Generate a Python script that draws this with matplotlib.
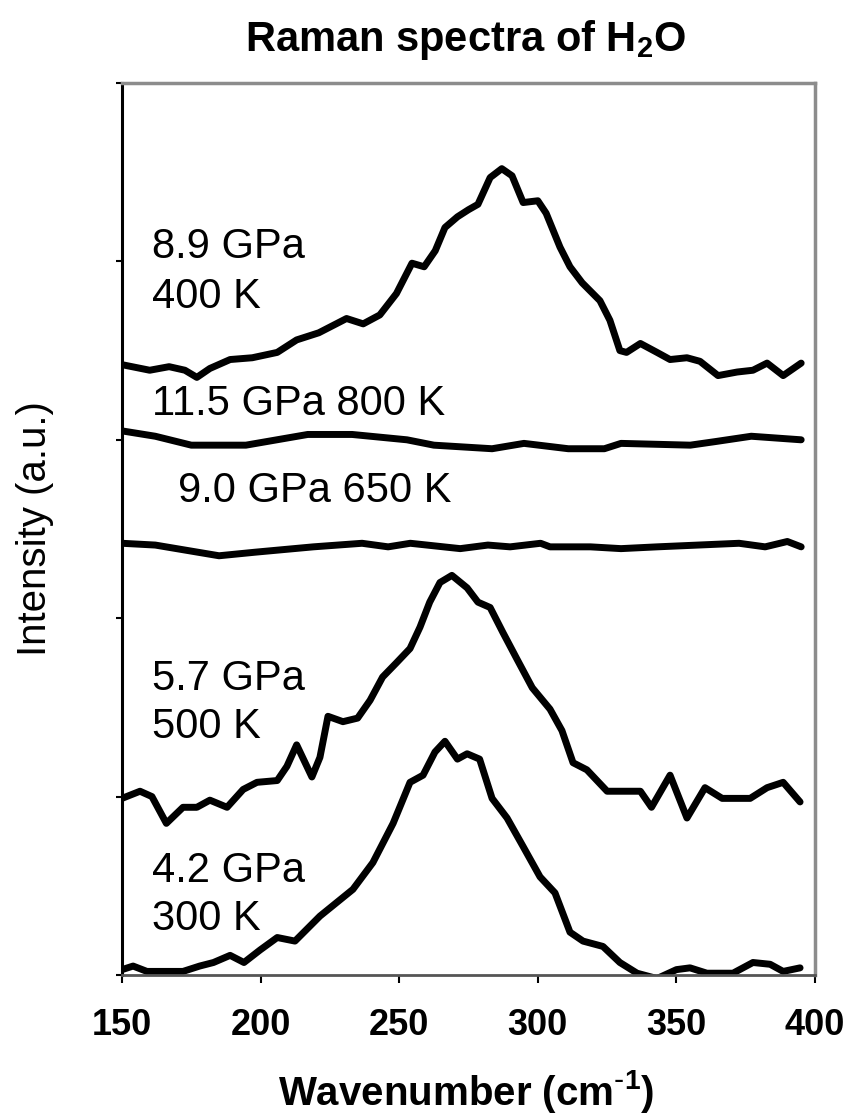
import numpy as np
import matplotlib
matplotlib.use("Agg")
import matplotlib.pyplot as plt

plt.rcParams['font.family'] = ['Liberation Sans', 'DejaVu Sans']
plt.rcParams['mathtext.default'] = 'regular'

# spectra (wavenumber, intensity with the stacking offset)
x89 = [150.4, 160, 167, 172.7, 177, 181.7, 189, 197, 206, 213, 221, 231, 237, 243, 249,
       254.6, 259, 263, 266.5, 271, 275, 278.4, 282.8, 287, 290.7, 294.7, 300, 303, 308,
       311.6, 316, 322.4, 326, 329.6, 332, 337, 343, 347.7, 353.8, 358.5, 365, 371.9,
       377.6, 382.7, 388.5, 395]
y89 = [3.42, 3.39, 3.41, 3.39, 3.35, 3.40, 3.45, 3.46, 3.49, 3.56, 3.60, 3.68, 3.65, 3.70,
       3.82, 3.99, 3.97, 4.06, 4.19, 4.25, 4.29, 4.32, 4.47, 4.52, 4.48, 4.33, 4.34, 4.27,
       4.08, 3.97, 3.88, 3.78, 3.67, 3.50, 3.49, 3.54, 3.49, 3.45, 3.46, 3.44, 3.36, 3.38,
       3.39, 3.43, 3.36, 3.43]

x115 = [150, 162, 175, 194.7, 217, 233, 252.8, 262.5, 283.5, 295, 311, 324, 330, 355, 364,
        377, 395]
y115 = [3.05, 3.02, 2.97, 2.97, 3.03, 3.03, 3.00, 2.97, 2.95, 2.98, 2.95, 2.95, 2.98, 2.97,
        2.99, 3.02, 3.00]

x90 = [150, 162, 185, 198, 219, 236.6, 246, 254, 272, 282, 290, 301, 304.4, 319, 330, 343,
       372.6, 382, 390, 395]
y90 = [2.42, 2.41, 2.35, 2.37, 2.40, 2.42, 2.40, 2.42, 2.39, 2.41, 2.40, 2.42, 2.40, 2.40,
       2.39, 2.40, 2.42, 2.40, 2.43, 2.40]

x57 = [150, 156.5, 160.8, 166, 172, 177, 181.7, 187.9, 193.7, 198.7, 206, 209.5, 213, 218.5,
       221.4, 224.3, 229.7, 235, 239.5, 244, 249, 253.9, 257.5, 261, 264.7, 269, 274.5,
       278.4, 282.8, 287.4, 292.5, 298, 304.4, 308.7, 312.7, 317.7, 325, 337, 341, 347.7,
       353.8, 360.3, 366.5, 376.6, 382.7, 388.5, 394.6]
y57 = [0.99, 1.03, 1.00, 0.85, 0.94, 0.94, 0.98, 0.94, 1.04, 1.08, 1.09, 1.17, 1.29, 1.11,
       1.22, 1.45, 1.42, 1.44, 1.54, 1.67, 1.75, 1.83, 1.95, 2.09, 2.20, 2.24, 2.17, 2.09,
       2.06, 1.92, 1.77, 1.61, 1.49, 1.37, 1.19, 1.15, 1.03, 1.03, 0.94, 1.12, 0.88, 1.05,
       0.99, 0.99, 1.05, 1.08, 0.97]

x42 = [150, 154, 159, 172, 178, 183, 189, 194, 199.8, 206, 212.4, 221.4, 233.3, 240.5,
       247.8, 253.9, 258.6, 262.9, 266.5, 271, 274.5, 279, 283.5, 288.9, 294.7, 300.8,
       306.2, 311.6, 316.3, 323.5, 329.6, 335.8, 343, 350, 354.9, 361, 370.4, 377.6, 383.8,
       388.5, 394.6]
y42 = [0.03, 0.05, 0.02, 0.02, 0.05, 0.07, 0.11, 0.07, 0.14, 0.21, 0.19, 0.33, 0.48, 0.63,
       0.85, 1.08, 1.12, 1.25, 1.31, 1.21, 1.24, 1.21, 0.99, 0.88, 0.72, 0.55, 0.46, 0.24,
       0.19, 0.16, 0.07, 0.01, -0.02, 0.03, 0.04, 0.01, 0.01, 0.07, 0.06, 0.02, 0.04]

xticks = [150, 200, 250, 300, 350, 400]

fig = plt.figure(figsize=(8.49, 11.19), dpi=100)
ax = fig.add_axes([0.1437, 0.1287, 0.8163, 0.7971])

for xs, ys in [(x89, y89), (x115, y115), (x90, y90), (x57, y57), (x42, y42)]:
    ax.plot(xs, ys, color='black', lw=5, solid_joinstyle='round', solid_capstyle='round')

# labels next to each spectrum
kw = dict(fontsize=30, ha='left', va='baseline')
ax.text(160.8, 4.02, "8.9 GPa", **kw)
ax.text(160.8, 3.74, "400 K", **kw)
ax.text(160.8, 3.14, "11.5 GPa 800 K", **kw)
ax.text(170.2, 2.65, "9.0 GPa 650 K", **kw)
ax.text(160.8, 1.60, "5.7 GPa", **kw)
ax.text(160.8, 1.33, "500 K", **kw)
ax.text(160.8, 0.52, "4.2 GPa", **kw)
ax.text(160.8, 0.25, "300 K", **kw)

ax.set_xlim(150, 400)
ax.set_ylim(0, 5)
ax.set_xticks(xticks)
ax.set_yticks([0, 1, 2, 3, 4, 5])
ax.set_yticklabels([])
for lbl in ax.get_xticklabels():
    lbl.set_fontweight('bold')
ax.tick_params(axis='x', direction='out', length=6, width=1.5, labelsize=26, pad=18)
ax.tick_params(axis='y', direction='out', length=4, width=1.5)

ax.spines['left'].set_color('black')
ax.spines['left'].set_linewidth(2.2)
ax.spines['bottom'].set_color('#555555')
ax.spines['bottom'].set_linewidth(2.0)
ax.spines['top'].set_color('#8c8c8c')
ax.spines['top'].set_linewidth(2.5)
ax.spines['right'].set_color('#8c8c8c')
ax.spines['right'].set_linewidth(2.5)

ax.set_xlabel("Wavenumber (cm$^{\\text{-}1}$)", fontsize=29, fontweight='bold')
ax.xaxis.set_label_coords(0.497, -0.131)
ax.xaxis.label.set_va('center')
ax.set_ylabel("Intensity (a.u.)", fontsize=29)
ax.yaxis.set_label_coords(-0.126, 0.5)
ax.yaxis.label.set_va('center')

fig.text(0.549, 0.964, "Raman spectra of H$_2$O", fontsize=30, fontweight='bold',
         ha='center', va='center')

fig.savefig("out.png", dpi=100)
